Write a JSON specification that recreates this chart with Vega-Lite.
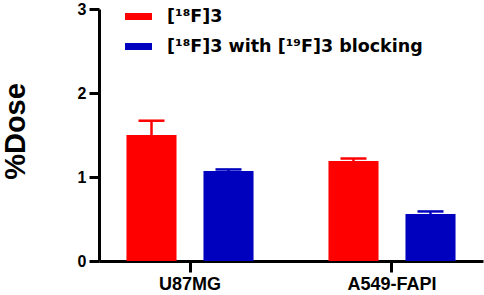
{
  "$schema": "https://vega.github.io/schema/vega-lite/v6.json",
  "width": 384,
  "height": 252,
  "autosize": {"type": "none"},
  "padding": {"left": 99, "top": 9, "right": 1, "bottom": 34},
  "background": "white",
  "config": {
    "view": {"stroke": null},
    "font": "Liberation Sans"
  },
  "data": {
    "values": [
      {"cell": "U87MG", "group": "[¹⁸F]3", "mean": 1.50, "upper": 1.67},
      {"cell": "U87MG", "group": "[¹⁸F]3 with [¹⁹F]3 blocking", "mean": 1.07, "upper": 1.09},
      {"cell": "A549-FAPI", "group": "[¹⁸F]3", "mean": 1.19, "upper": 1.22},
      {"cell": "A549-FAPI", "group": "[¹⁸F]3 with [¹⁹F]3 blocking", "mean": 0.56, "upper": 0.59}
    ]
  },
  "encoding": {
    "x": {
      "field": "cell", "type": "nominal", "sort": ["U87MG", "A549-FAPI"],
      "scale": {"paddingInner": 0.371, "paddingOuter": 0.136},
      "axis": {
        "title": null, "labelAngle": 0, "labelFontSize": 18, "labelFontWeight": "bold",
        "labelColor": "black", "domainColor": "black", "domainWidth": 3,
        "tickColor": "black", "tickWidth": 3, "tickSize": 11, "labelPadding": 3
      }
    },
    "xOffset": {
      "field": "group", "type": "nominal",
      "sort": ["[¹⁸F]3", "[¹⁸F]3 with [¹⁹F]3 blocking"],
      "scale": {"paddingInner": 0.35, "paddingOuter": 0}
    },
    "color": {
      "field": "group", "type": "nominal",
      "sort": ["[¹⁸F]3", "[¹⁸F]3 with [¹⁹F]3 blocking"],
      "scale": {"domain": ["[¹⁸F]3", "[¹⁸F]3 with [¹⁹F]3 blocking"], "range": ["#FF0000", "#0000BF"]},
      "legend": {
        "title": null, "orient": "none", "legendX": 26, "legendY": -6,
        "symbolType": "M-1,-0.26L1,-0.26L1,0.26L-1,0.26Z", "symbolSize": 729,
        "symbolStrokeWidth": 0, "symbolOpacity": 1,
        "labelFont": "DejaVu Sans", "labelFontSize": 17.5, "labelFontWeight": "bold",
        "labelColor": "black", "labelOffset": 15, "labelLimit": 0, "rowPadding": 8
      }
    }
  },
  "layer": [
    {
      "mark": {"type": "bar", "opacity": 1},
      "encoding": {
        "y": {
          "field": "mean", "type": "quantitative",
          "scale": {"domain": [0, 3], "nice": false},
          "axis": {
            "title": "%Dose", "values": [0, 1, 2, 3], "format": "d", "grid": false,
            "labelFontSize": 16, "labelFontWeight": "bold", "labelColor": "black",
            "domainColor": "black", "domainWidth": 3, "tickColor": "black",
            "tickWidth": 3, "tickSize": 10, "labelPadding": 3,
            "titleFontSize": 29, "titleFontWeight": "bold", "titleColor": "black",
            "titleX": -75, "titleY": 122, "titleBaseline": "alphabetic"
          }
        }
      }
    },
    {
      "mark": {"type": "rule", "strokeWidth": 2.5},
      "encoding": {
        "y": {"field": "mean", "type": "quantitative"},
        "y2": {"field": "upper"}
      }
    },
    {
      "mark": {"type": "tick", "thickness": 2.5, "size": 26, "opacity": 1},
      "encoding": {
        "y": {"field": "upper", "type": "quantitative"}
      }
    }
  ]
}
